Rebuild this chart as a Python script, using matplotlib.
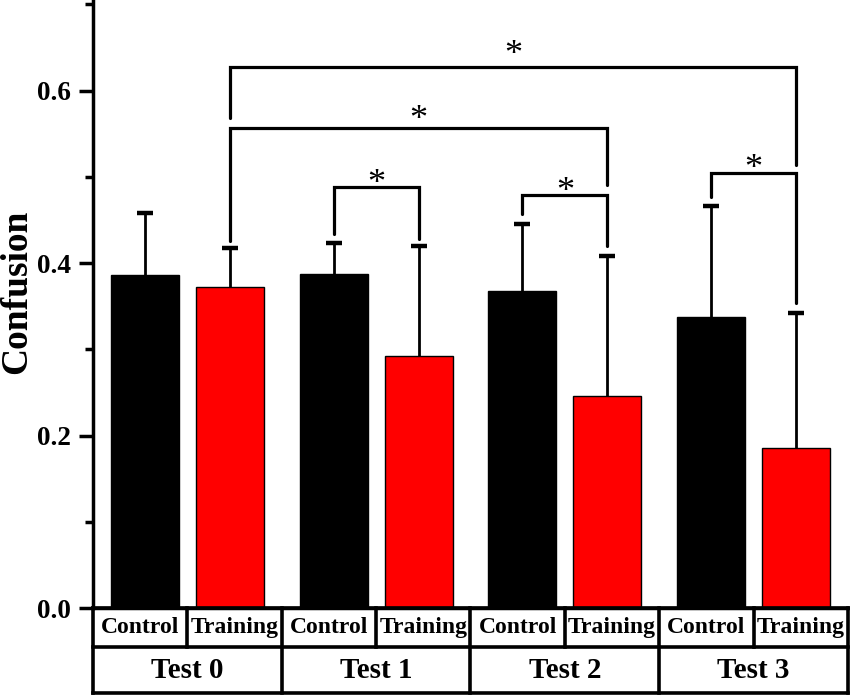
import matplotlib
matplotlib.use('Agg')
import matplotlib.pyplot as plt
import matplotlib.transforms as mtransforms

plt.rcParams['font.family'] = ['Liberation Serif', 'DejaVu Serif']
plt.rcParams['font.weight'] = 'bold'

tests = ['Test 0', 'Test 1', 'Test 2', 'Test 3']
groups = ['Control', 'Training']
control_mean = [0.386, 0.387, 0.368, 0.338]
control_err = [0.072, 0.036, 0.077, 0.128]
training_mean = [0.372, 0.292, 0.246, 0.186]
training_err = [0.046, 0.128, 0.162, 0.156]

# significance brackets: (bar a, bar b, bracket height, leg end a, leg end b, star height)
# bars are numbered 0..7 left to right
brackets = [
    (1, 7, 0.627, 0.568, 0.514, 0.653),
    (1, 5, 0.557, 0.425, 0.490, 0.578),
    (2, 3, 0.488, 0.434, 0.428, 0.504),
    (4, 5, 0.479, 0.457, 0.420, 0.495),
    (6, 7, 0.504, 0.476, 0.354, 0.521),
]

fig = plt.figure(figsize=(8.5, 6.96), dpi=100)
ax = fig.add_axes([93 / 850, 1 - 608 / 696, 755 / 850, 608 / 696])

centers = [2 * i + 1 for i in range(len(tests))]
x_ctrl = [c - 0.45 for c in centers]
x_train = [c + 0.45 for c in centers]
bar_x = []
for a, b in zip(x_ctrl, x_train):
    bar_x += [a, b]

w = 0.72
ax.bar(x_ctrl, control_mean, width=w, color='black', edgecolor='black', linewidth=1, zorder=2)
ax.bar(x_train, training_mean, width=w, color='#ff0000', edgecolor='black', linewidth=1, zorder=2)
for xs, m, e in [(x_ctrl, control_mean, control_err), (x_train, training_mean, training_err)]:
    _, caps, _ = ax.errorbar(xs, m, yerr=[[0] * 4, e], fmt='none', ecolor='black',
                             elinewidth=2.0, capsize=6, capthick=3.2, zorder=3)
    # only the upper cap is drawn
    for c in caps:
        if list(c.get_ydata()) == list(m):
            c.set_visible(False)

for a, b, h, ya, yb, sy in brackets:
    xa, xb = bar_x[a], bar_x[b]
    ax.plot([xa, xa, xb, xb], [ya, h, h, yb], color='black', lw=2.3,
            solid_joinstyle='miter', solid_capstyle='round', zorder=4)
    ax.text((xa + xb) / 2, sy - 0.032, '*', ha='center', va='bottom', fontsize=26,
            fontweight='normal', zorder=5)

ax.set_xlim(0, 8)
ax.set_ylim(0, 0.705)
ax.set_yticks([0.0, 0.2, 0.4, 0.6])
ax.set_yticks([0.1, 0.3, 0.5, 0.7], minor=True)
ax.set_yticklabels(['0.0', '0.2', '0.4', '0.6'], fontsize=19.5, fontweight='bold')
ax.tick_params(axis='y', which='major', length=10, width=2.5, pad=6)
ax.tick_params(axis='y', which='minor', length=6, width=2.5)
ax.set_xticks([])
for s in ['top', 'right']:
    ax.spines[s].set_visible(False)
ax.spines['left'].set_linewidth(2.5)
ax.spines['bottom'].set_linewidth(2.5)
ax.set_ylabel('Confusion', fontsize=27, fontweight='bold', va='baseline')
ax.yaxis.set_label_coords(-0.088, 0.52)

# two-row category table under the axes
trans = mtransforms.blended_transform_factory(ax.transData, ax.transAxes)
r1 = -39 / 608
r2 = -85 / 608
lk = dict(color='black', lw=2.6, transform=trans, clip_on=False, solid_capstyle='projecting')
ax.plot([0, 8], [r1, r1], **lk)
ax.plot([0, 8], [r2, r2], **lk)
ax.plot([0, 8], [0, 0], **lk)
for i in range(9):
    bottom = r2 if i % 2 == 0 else r1
    ax.plot([i, i], [0, bottom], **lk)
for i, t in enumerate(tests):
    ax.text(centers[i], (r1 + r2) / 2, t, transform=trans, ha='center', va='center',
            fontsize=21, fontweight='bold')
    for j, g in enumerate(groups):
        ax.text(2 * i + j + 0.5, r1 / 2, g, transform=trans, ha='center', va='center',
                fontsize=17, fontweight='bold')

fig.savefig('out.png', dpi=100)
